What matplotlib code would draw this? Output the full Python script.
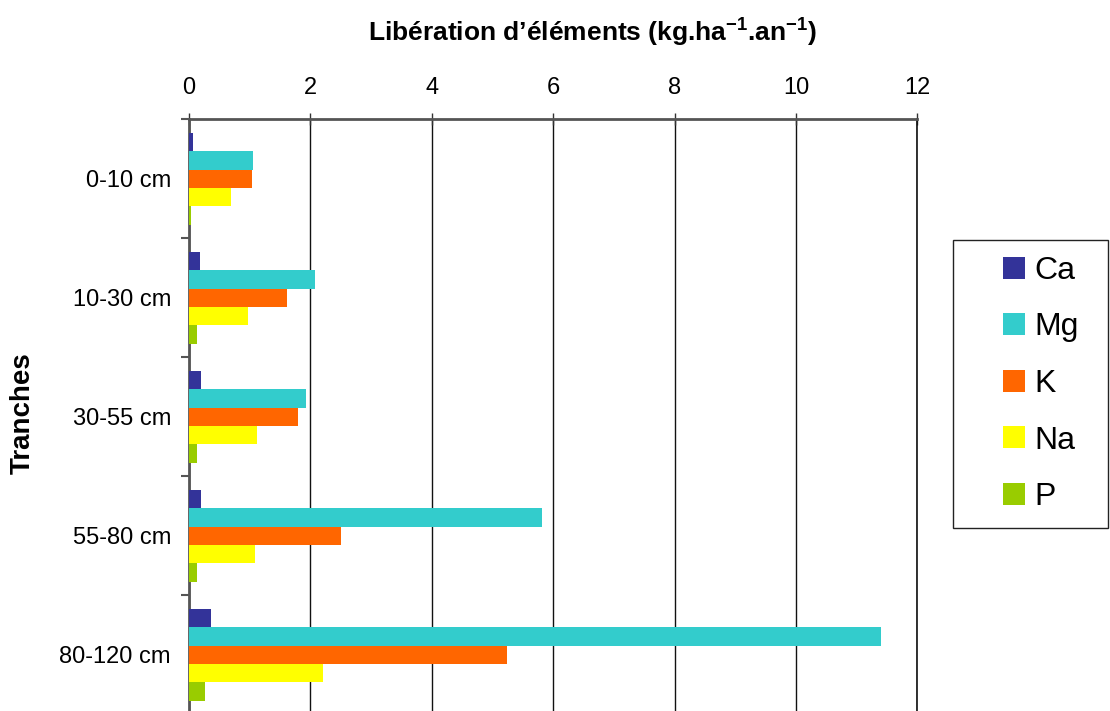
import matplotlib
matplotlib.use("Agg")
from matplotlib import pyplot
from matplotlib.patches import Rectangle
import numpy as np

pyplot.rcParams["font.family"] = ["Liberation Sans", "DejaVu Sans"]
pyplot.rcParams["mathtext.fontset"] = "custom"
pyplot.rcParams["mathtext.rm"] = "Liberation Sans"
pyplot.rcParams["mathtext.bf"] = "Liberation Sans:bold"

tranches = ["0-10 cm", "10-30 cm", "30-55 cm", "55-80 cm", "80-120 cm"]
elements = ["Ca", "Mg", "K", "Na", "P"]
ca = [0.07, 0.18, 0.19, 0.19, 0.36]
mg = [1.06, 2.07, 1.92, 5.82, 11.40]
k = [1.03, 1.62, 1.79, 2.50, 5.24]
na = [0.69, 0.97, 1.12, 1.08, 2.21]
p = [0.04, 0.14, 0.14, 0.14, 0.26]
colors = ["#333399", "#33CCCC", "#FF6600", "#FFFF00", "#99CC00"]

W, H = 1110, 711
fig = pyplot.figure(figsize=(W / 100, H / 100), dpi=100)
ax = fig.add_axes([189 / W, 1 - 714.3 / H, (917.3 - 189) / W, 595 / H])

y = np.arange(len(tranches))
h = 0.154
for i, (vals, name) in enumerate(zip([ca, mg, k, na, p], elements)):
    ax.barh(y + (i - 2) * h, vals, height=h, color=colors[i], label=name, zorder=3)

ax.set_xlim(0, 12)
ax.set_ylim(len(tranches) - 0.5, -0.5)

ax.xaxis.tick_top()
ax.set_xticks(np.arange(0, 13, 2))
ax.tick_params(axis="x", which="major", direction="inout", length=9, width=1,
               color="#333333", labelsize=17, pad=10)
ax.grid(axis="x", color="#111111", linewidth=1, zorder=0)

ax.set_yticks(np.arange(-0.5, len(tranches), 1))
ax.set_yticklabels([])
ax.set_yticks(y, minor=True)
ax.set_yticklabels(tranches, minor=True)
ax.tick_params(axis="y", which="major", direction="out", length=6, width=1.5, color="#555555")
ax.tick_params(axis="y", which="minor", length=0, labelsize=17, pad=13)

ax.spines["bottom"].set_visible(False)
ax.spines["right"].set_color("#111111")
ax.spines["right"].set_linewidth(1.2)
ax.spines["left"].set_color("#555555")
ax.spines["left"].set_linewidth(2)
ax.spines["top"].set_color("#555555")
ax.spines["top"].set_linewidth(2)

fig.text(593 / W, 1 - 33 / H,
         r"Libération d’éléments (kg.ha$\mathbf{^{-1}}$.an$\mathbf{^{-1}}$)",
         ha="center", va="center", fontsize=19, fontweight="bold")
fig.text(23 / W, 1 - 413 / H, "Tranches", rotation=90, ha="center", va="center",
         fontsize=20, fontweight="bold")

leg = fig.legend(loc="center left", bbox_to_anchor=(1003 / W, 1 - 384 / H), frameon=False,
                 fontsize=23, handlelength=0.69, handleheight=0.69, handletextpad=0.3,
                 labelspacing=0.83, borderpad=0, borderaxespad=0)
fig.patches.append(Rectangle((953 / W, 1 - 528 / H), (1108 - 953) / W, (528 - 240) / H,
                             transform=fig.transFigure, fill=False, edgecolor="#222222",
                             linewidth=1))

fig.savefig("out.png", dpi=100)
